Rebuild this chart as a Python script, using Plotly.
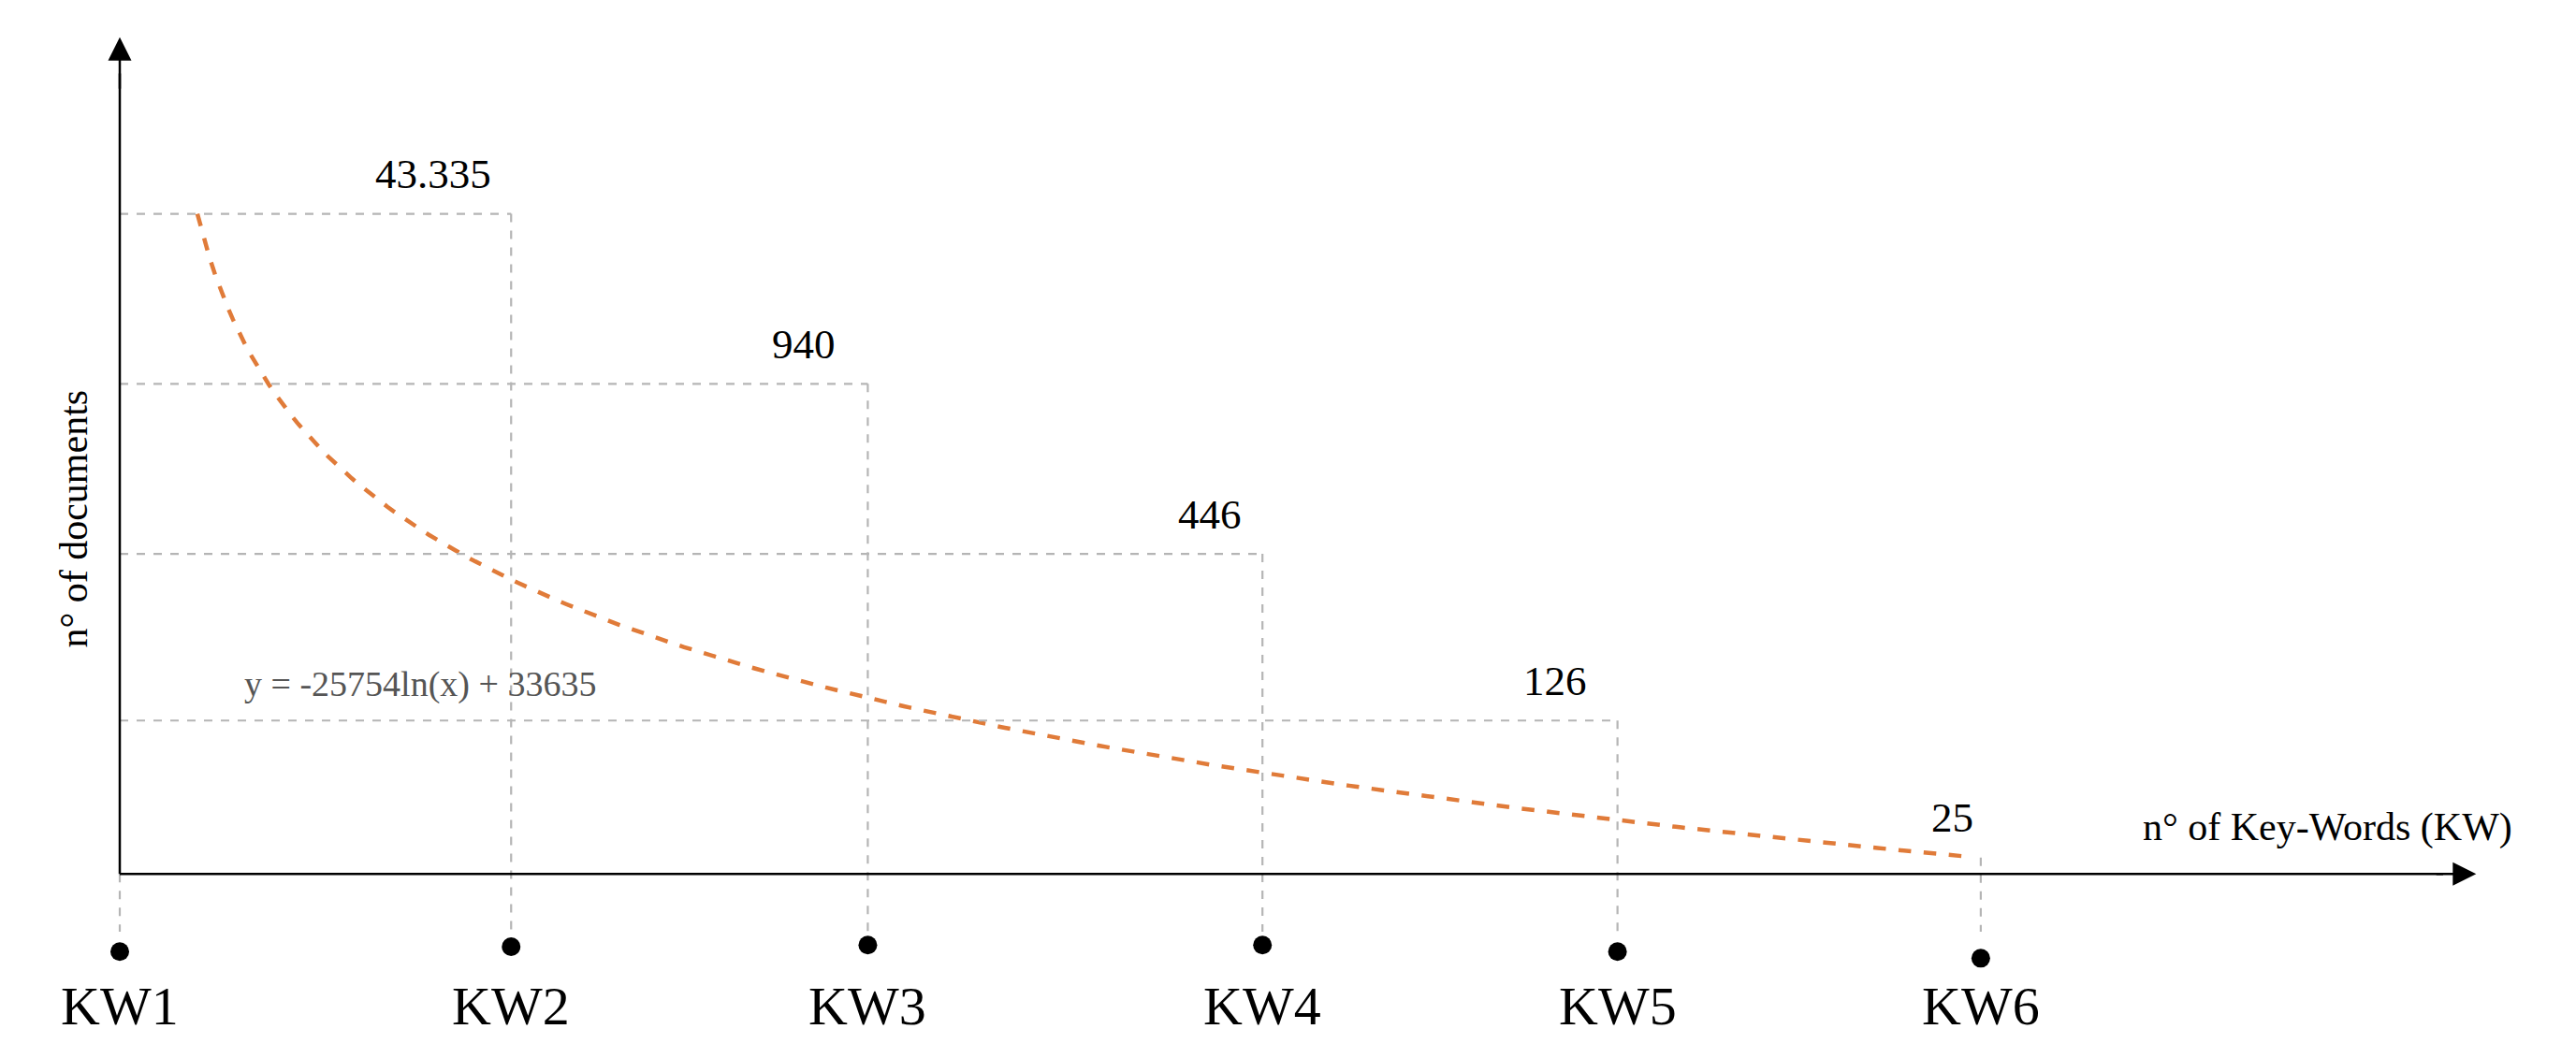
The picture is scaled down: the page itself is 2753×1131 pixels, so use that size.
import numpy as np
import plotly.graph_objects as go

kw_labels = ["KW1", "KW2", "KW3", "KW4", "KW5", "KW6"]
kw_x = [68, 305, 521, 760, 975, 1195]
kw_dot_y = [572, 569, 568, 568, 572, 576]
value_labels = ["43.335", "940", "446", "126", "25"]
level_y = [125, 228, 331, 432, 515]
equation = "y = -25754ln(x) + 33635"

fig = go.Figure()
gray = "#b5b5b5"
shapes = []
for i, ly in enumerate(level_y):
    xe = kw_x[i + 1]
    if i < 4:
        shapes.append(dict(type="line", x0=kw_x[0], x1=xe, y0=ly, y1=ly,
                           line=dict(color=gray, width=2.2, dash="dash")))
    shapes.append(dict(type="line", x0=xe, x1=xe, y0=ly, y1=560,
                       line=dict(color=gray, width=2.2, dash="dash")))
shapes.append(dict(type="line", x0=kw_x[0], x1=kw_x[0], y0=525, y1=560,
                   line=dict(color=gray, width=2.2, dash="dash")))
shapes.append(dict(type="line", x0=68, x1=1475, y0=525, y1=525, line=dict(color="black", width=2.5)))
shapes.append(dict(type="line", x0=68, x1=68, y0=525, y1=40, line=dict(color="black", width=2.5)))
fig.update_layout(shapes=shapes)

cx = np.linspace(115, 1190, 300)
cy = 125 + 103 * (np.log(cx - 90) - np.log(25))
fig.add_trace(go.Scatter(x=cx, y=cy, mode="lines",
                         line=dict(color="#e07b39", width=4.5, dash="dash"), hoverinfo="skip"))
fig.add_trace(go.Scatter(x=kw_x, y=kw_dot_y, mode="markers",
                         marker=dict(color="black", size=20), hoverinfo="skip"))

font = "Liberation Serif, Times New Roman, serif"
ann = []
for lab, x in zip(kw_labels, kw_x):
    ann.append(dict(x=x, y=605, text=lab, showarrow=False, font=dict(size=58, color="black", family=font)))
val_x = [258, 482, 728, 937, 1178]
for v, x, ly in zip(value_labels, val_x, level_y):
    ann.append(dict(x=x, y=ly - 24, text=v, showarrow=False, font=dict(size=45, color="black", family=font)))
ann.append(dict(x=250, y=410, text=equation, showarrow=False, font=dict(size=38, color="#555", family=font)))
ann.append(dict(x=1405, y=497, text="n° of Key-Words (KW)", showarrow=False, font=dict(size=42, color="black", family=font)))
ann.append(dict(x=40, y=310, text="n° of documents", textangle=-90, showarrow=False, font=dict(size=42, color="black", family=font)))
ann.append(dict(x=68, y=18, ax=68, ay=50, axref="x", ayref="y", xref="x", yref="y", text="",
                showarrow=True, arrowhead=2, arrowsize=2, arrowwidth=2.5, arrowcolor="black"))
ann.append(dict(x=1495, y=525, ax=1470, ay=525, axref="x", ayref="y", xref="x", yref="y", text="",
                showarrow=True, arrowhead=2, arrowsize=2, arrowwidth=2.5, arrowcolor="black"))
fig.update_layout(annotations=ann)

fig.update_layout(
    width=2753, height=1131, margin=dict(l=0, r=0, t=0, b=0),
    plot_bgcolor="white", paper_bgcolor="white", showlegend=False,
    xaxis=dict(range=[0, 1560], visible=False, fixedrange=True),
    yaxis=dict(range=[641, 0], visible=False, fixedrange=True),
)
fig.write_html("out.html")
